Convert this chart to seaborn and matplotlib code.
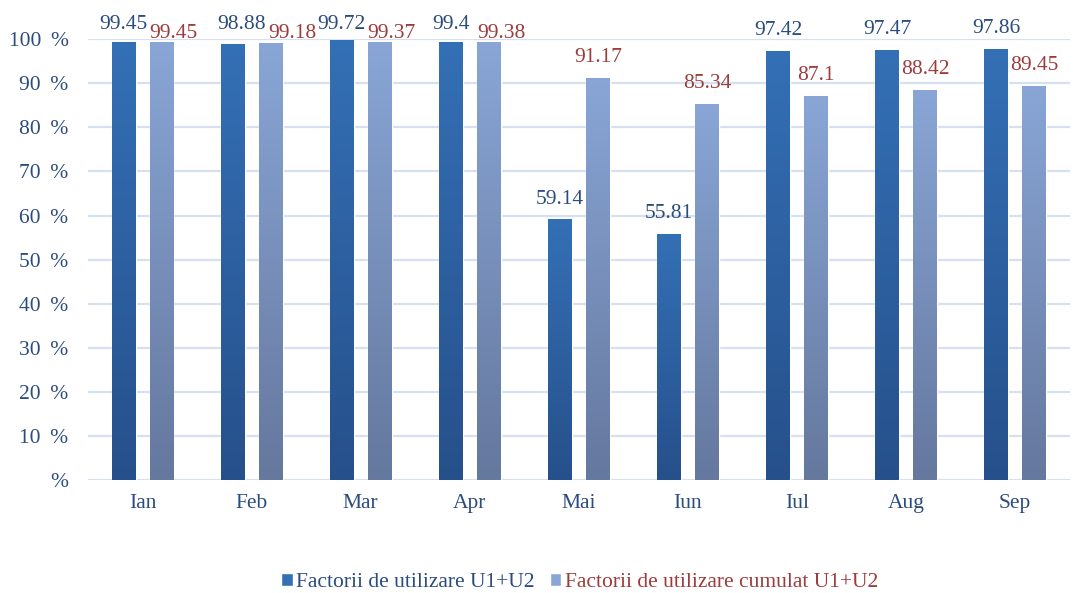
import numpy as np
import pandas as pd
import matplotlib
matplotlib.use("Agg")
import matplotlib.pyplot as plt
from matplotlib.colors import LinearSegmentedColormap
from matplotlib.patches import Patch
import seaborn as sns

# ── DATA
months = ["Ian", "Feb", "Mar", "Apr", "Mai", "Iun", "Iul", "Aug", "Sep"]
factor_u = [99.45, 98.88, 99.72, 99.4, 59.14, 55.81, 97.42, 97.47, 97.86]
factor_cum = [99.45, 99.18, 99.37, 99.38, 91.17, 85.34, 87.1, 88.42, 89.45]
series = ["Factorii de utilizare U1+U2", "Factorii de utilizare cumulat U1+U2"]
yticks = [0, 10, 20, 30, 40, 50, 60, 70, 80, 90, 100]

df = pd.DataFrame({
    "luna": months * 2,
    "valoare": factor_u + factor_cum,
    "serie": [series[0]] * len(months) + [series[1]] * len(months),
})

sns.set_theme(style="white")
plt.rcParams["font.family"] = ["Liberation Serif", "DejaVu Serif"]

FS = 15.5
BLUE_TXT = "#2B4C7E"
RED_TXT = "#9E3B3B"
GRID = "#D5E1F1"
grad = {
    series[0]: ("#3470B6", "#26508B"),   # top, bottom
    series[1]: ("#89A6D6", "#65789E"),
}

fig = plt.figure(figsize=(10.73, 5.93), dpi=100)
ax = fig.add_axes([0.082, 0.19, 0.915, 0.744])

sns.barplot(data=df, x="luna", y="valoare", hue="serie", order=months,
            hue_order=series, width=0.696, gap=0.37,
            palette=[grad[series[0]][1], grad[series[1]][1]], ax=ax,
            legend=False, saturation=1)

# gradient fill for each bar
n = len(months)
bars = ax.patches[:2 * n]
for i, p in enumerate(bars):
    s = series[i // n]
    cmap = LinearSegmentedColormap.from_list("g", [grad[s][1], grad[s][0]])
    x0, y0 = p.get_x(), p.get_y()
    w, h = p.get_width(), p.get_height()
    im = ax.imshow(np.linspace(0, 1, 256).reshape(-1, 1), cmap=cmap, origin="lower",
                   extent=[x0, x0 + w, y0, y0 + h], aspect="auto", zorder=p.get_zorder() + 0.1)
    im.set_clip_path(p)

ax.set_xlim(-0.5, len(months) - 0.5)
ax.set_ylim(0, 100)

# value labels (Excel-like nudging where labels hit the top)
caps = [102.4, 100.2]
colors = [BLUE_TXT, RED_TXT]
nudge = {1: 0.085}  # Feb labels pushed right
for k, vals in enumerate([factor_u, factor_cum]):
    for i, v in enumerate(vals):
        p = bars[k * n + i]
        y = v + 3.6
        xc = p.get_x() + p.get_width() / 2 + nudge.get(i, 0)
        ha = "center"
        if y > caps[k]:
            y = caps[k]
            if k == 1:
                xc = p.get_x() + nudge.get(i, 0)
                ha = "left"
        ax.text(xc, y, f"{v:g}", ha=ha, va="baseline",
                fontsize=FS, color=colors[k], clip_on=False, zorder=5)

# axes styling
ax.set_yticks(yticks)
ax.set_yticklabels([f"{t} \u2009%" if t else "%" for t in yticks])
ax.grid(axis="y", color=GRID, linewidth=1.6)
ax.set_axisbelow(True)
for sp in ax.spines.values():
    sp.set_visible(False)
ax.tick_params(axis="both", length=0, labelsize=FS, labelcolor=BLUE_TXT)
ax.tick_params(axis="x", pad=10)
ax.tick_params(axis="y", pad=14)
ax.set_xlabel("")
ax.set_ylabel("")

handles = [Patch(facecolor=grad[series[0]][0]), Patch(facecolor=grad[series[1]][0])]
leg = fig.legend(handles, series, loc="center", bbox_to_anchor=(0.54, 0.017),
                 ncol=2, frameon=False, fontsize=FS, handlelength=0.55, handleheight=0.55,
                 handletextpad=0.15, columnspacing=0.7)
for t, c in zip(leg.get_texts(), colors):
    t.set_color(c)

fig.savefig("out.png", dpi=100)
